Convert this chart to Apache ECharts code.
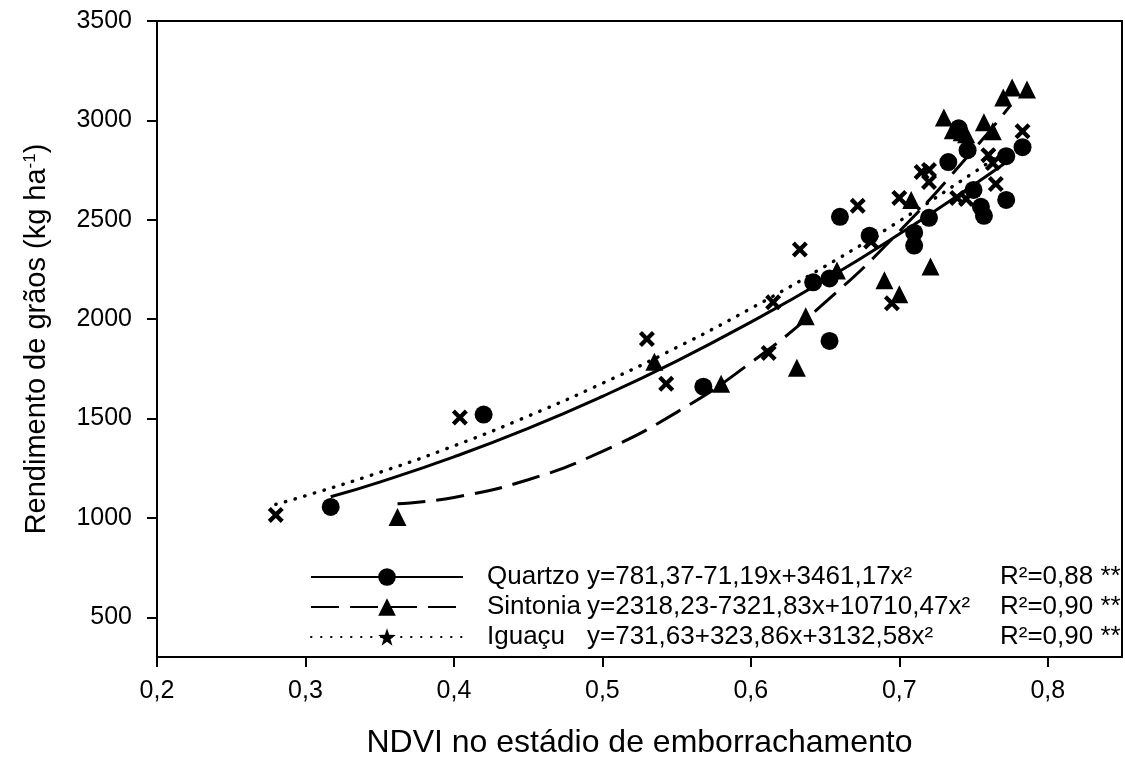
<!DOCTYPE html>
<html>
<head>
<meta charset="utf-8">
<script src="https://cdn.jsdelivr.net/npm/echarts@6/dist/echarts.min.js"></script>
<style>
  html, body { margin: 0; padding: 0; background: #fff; }
  #main { width: 1125px; height: 764px; }
</style>
</head>
<body>
<div id="main"></div>
<script>
// pontos observados (NDVI, rendimento)
var quartzoX = [0.317, 0.420, 0.568, 0.642, 0.653, 0.653, 0.660, 0.680, 0.710, 0.710, 0.720, 0.733, 0.740, 0.746, 0.750, 0.755, 0.757, 0.772, 0.772, 0.783];
var quartzoY = [1055, 1520, 1660, 2185, 2205, 1890, 2515, 2420, 2435, 2370, 2510, 2790, 2960, 2850, 2650, 2565, 2520, 2820, 2600, 2865];

var sintoniaX = [0.362, 0.535, 0.580, 0.631, 0.637, 0.658, 0.690, 0.700, 0.708, 0.721, 0.730, 0.736, 0.742, 0.745, 0.757, 0.763, 0.770, 0.776, 0.786];
var sintoniaY = [1005, 1785, 1675, 1755, 2015, 2245, 2195, 2125, 2600, 2265, 3015, 2950, 2940, 2930, 2990, 2945, 3115, 3165, 3155];

var iguacuX = [0.280, 0.404, 0.530, 0.543, 0.612, 0.615, 0.633, 0.672, 0.681, 0.695, 0.700, 0.715, 0.720, 0.720, 0.739, 0.745, 0.760, 0.763, 0.765, 0.783];
var iguacuY = [1015, 1505, 1900, 1675, 1830, 2085, 2350, 2570, 2390, 2080, 2610, 2740, 2750, 2690, 2610, 2605, 2825, 2785, 2680, 2945];

// curvas de regressao
var curvaQuartzoX = [0.317, 0.35, 0.40, 0.45, 0.50, 0.55, 0.60, 0.65, 0.70, 0.75, 0.772];
var curvaQuartzoY = [1106, 1180, 1307, 1450, 1611, 1789, 1985, 2197, 2428, 2675, 2789];
var curvaSintoniaX = [0.362, 0.40, 0.45, 0.50, 0.55, 0.60, 0.65, 0.70, 0.75, 0.775];
var curvaSintoniaY = [1071, 1103, 1192, 1335, 1531, 1781, 2084, 2441, 2852, 3077];
var curvaIguacuX = [0.280, 0.30, 0.35, 0.40, 0.45, 0.50, 0.55, 0.60, 0.65, 0.70, 0.75, 0.765];
var curvaIguacuY = [1068, 1111, 1229, 1362, 1512, 1677, 1857, 2054, 2266, 2493, 2737, 2813];

var xTicks = [0.2, 0.3, 0.4, 0.5, 0.6, 0.7, 0.8];
var yTicks = [500, 1000, 1500, 2000, 2500, 3000, 3500];

var legendNomes = ['Quartzo', 'Sintonia', 'Iguaçu'];
var legendEquacoes = ['y=781,37-71,19x+3461,17x²', 'y=2318,23-7321,83x+10710,47x²', 'y=731,63+323,86x+3132,58x²'];
var legendR2 = ['R²=0,88 **', 'R²=0,90 **', 'R²=0,90 **'];

function pares(xs, ys) {
    var out = [];
    for (var i = 0; i < xs.length; i++) {
        out.push([xs[i], ys[i]]);
    }
    return out;
}

var fonte = '"Liberation Sans", Arial, sans-serif';
var xis = 'path://M0,1.9 L1.9,0 L5,3.1 L8.1,0 L10,1.9 L6.9,5 L10,8.1 L8.1,10 L5,6.9 L1.9,10 L0,8.1 L3.1,5 Z';
var estrela = 'path://M5,0 L6.18,3.38 L9.76,3.45 L6.9,5.62 L7.94,9.05 L5,7 L2.06,9.05 L3.1,5.62 L0.24,3.45 L3.82,3.38 Z';

var myChart = echarts.init(document.getElementById('main'));

var txt = { fontSize: 26, fontFamily: fonte, color: '#000', lineHeight: 24 };

var option = {
    backgroundColor: '#fff',
    animation: false,
    grid: {
        left: 157,
        right: 3,
        top: 21,
        bottom: 103,
        show: true,
        borderColor: '#000',
        borderWidth: 2
    },
    legend: {
        data: legendNomes,
        orient: 'vertical',
        left: 305,
        top: 559,
        itemWidth: 152,
        itemHeight: 22,
        itemGap: 4,
        selectedMode: false,
        formatter: function (name) {
            var i = legendNomes.indexOf(name);
            return '{g| }{n|' + name + '}{e|' + legendEquacoes[i] + '}{r|' + legendR2[i] + '}';
        },
        textStyle: {
            fontFamily: fonte,
            fontSize: 26,
            lineHeight: 24,
            color: '#000',
            rich: {
                g: Object.assign({ width: 19 }, txt),
                n: Object.assign({ width: 100 }, txt),
                e: Object.assign({ width: 413 }, txt),
                r: txt
            }
        }
    },
    xAxis: {
        type: 'value',
        min: 0.2,
        max: 0.85,
        name: 'NDVI no estádio de emborrachamento',
        nameLocation: 'middle',
        nameGap: 70,
        nameTextStyle: { fontFamily: fonte, fontSize: 32, color: '#000' },
        axisLine: { lineStyle: { color: '#000', width: 2 } },
        axisTick: { customValues: xTicks, length: 10, lineStyle: { color: '#000', width: 2 } },
        axisLabel: {
            customValues: xTicks,
            margin: 22,
            fontFamily: fonte,
            fontSize: 25,
            color: '#000',
            formatter: function (v) {
                return v.toFixed(1).replace('.', ',');
            }
        },
        splitLine: { show: false }
    },
    yAxis: {
        type: 'value',
        min: 300,
        max: 3500,
        name: 'Rendimento de grãos (kg ha{sup|-1})',
        nameLocation: 'middle',
        nameGap: 106,
        nameTextStyle: {
            fontFamily: fonte,
            fontSize: 29,
            color: '#000',
            rich: {
                sup: { fontFamily: fonte, fontSize: 17, color: '#000', verticalAlign: 'top' }
            }
        },
        axisLine: { lineStyle: { color: '#000', width: 2 } },
        axisTick: { customValues: yTicks, length: 10, lineStyle: { color: '#000', width: 2 } },
        axisLabel: {
            customValues: yTicks,
            margin: 25,
            fontFamily: fonte,
            fontSize: 25,
            color: '#000',
            formatter: function (v) {
                return String(v);
            }
        },
        splitLine: { show: false }
    },
    series: [
        {
            name: 'Quartzo',
            type: 'line',
            smooth: true,
            showSymbol: false,
            symbol: 'circle',
            itemStyle: { color: '#000' },
            lineStyle: { color: '#000', width: 3 },
            data: pares(curvaQuartzoX, curvaQuartzoY)
        },
        {
            name: 'Sintonia',
            type: 'line',
            smooth: true,
            showSymbol: false,
            symbol: 'triangle',
            itemStyle: { color: '#000' },
            lineStyle: { color: '#000', width: 3, type: [28, 11] },
            data: pares(curvaSintoniaX, curvaSintoniaY)
        },
        {
            name: 'Iguaçu',
            type: 'line',
            smooth: true,
            showSymbol: false,
            symbol: estrela,
            itemStyle: { color: '#000' },
            lineStyle: { color: '#000', width: 3.4, type: [0.5, 9.5], cap: 'round' },
            data: pares(curvaIguacuX, curvaIguacuY)
        },
        {
            name: 'Quartzo pontos',
            type: 'scatter',
            symbol: 'circle',
            symbolSize: 18,
            itemStyle: { color: '#000', opacity: 1 },
            data: pares(quartzoX, quartzoY)
        },
        {
            name: 'Sintonia pontos',
            type: 'scatter',
            symbol: 'triangle',
            symbolSize: 18,
            itemStyle: { color: '#000', opacity: 1 },
            data: pares(sintoniaX, sintoniaY)
        },
        {
            name: 'Iguaçu pontos',
            type: 'scatter',
            symbol: xis,
            symbolSize: 16,
            itemStyle: { color: '#000', opacity: 1 },
            data: pares(iguacuX, iguacuY)
        }
    ]
};

myChart.setOption(option);
window.addEventListener('resize', function () {
    myChart.resize();
});
</script>
</body>
</html>
